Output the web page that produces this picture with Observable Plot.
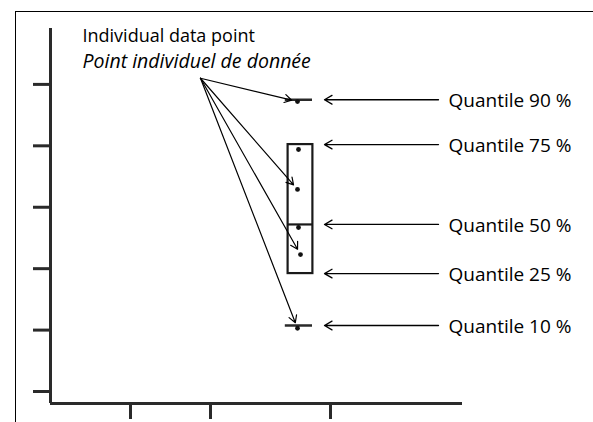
<!DOCTYPE html>
<html>
<head>
<meta charset="utf-8">
<script src="https://cdn.jsdelivr.net/npm/d3@7"></script>
<script src="https://cdn.jsdelivr.net/npm/@observablehq/plot@0.6"></script>
<style>
  html, body { margin: 0; padding: 0; background: #fff; }
  #wrap { position: relative; width: 593px; height: 422px; overflow: hidden; }
  #frame { position: absolute; left: 15px; top: 11px; right: -5px; bottom: -5px;
           border-left: 1.5px solid #000; border-top: 1.5px solid #000; pointer-events: none; }
  #chart { position: absolute; left: 0; top: 0; }
</style>
</head>
<body>
<div id="wrap"><div id="chart"></div><div id="frame"></div></div>
<script>
// Axis ticks (unlabelled in the reference)
const yTicks = [1, 2, 3, 4, 5, 6];
const xTicks = [2, 4, 7];

// Box position and width
const boxX = 6.25;
const boxHalf = 0.31;
const capHalf = 0.33;

// Quantile labels and values
const quantileLabels = ["Quantile 90 %", "Quantile 75 %", "Quantile 50 %", "Quantile 25 %", "Quantile 10 %"];
const quantileValues = [5.75, 5.02, 3.72, 2.92, 2.075];

// Individual data points
const pointX = [6.175, 6.2, 6.175, 6.2, 6.25, 6.175];
const pointY = [5.72, 4.94, 4.29, 3.67, 3.23, 2.03];
const annotatedPoints = [0, 2, 4, 5];

// Annotation
const annotationLines = ["Individual data point", "Point individuel de donnée"];
const annotationX = 0.8;
const annotationY = [6.78, 6.37];
const arrowOrigin = [3.75, 6.1];
const labelX = 9.95;
const labelArrowFrom = 9.7;
const labelArrowTo = 6.85;

const points = pointX.map((x, i) => ({x, y: pointY[i]}));
const quantiles = quantileLabels.map((label, i) => ({label, value: quantileValues[i]}));
const q = Object.fromEntries([90, 75, 50, 25, 10].map((k, i) => [k, quantileValues[i]]));
const arrows = annotatedPoints.map(i => ({x1: arrowOrigin[0], y1: arrowOrigin[1], x2: pointX[i], y2: pointY[i]}));

const axisColor = "#2a2a2a";

const chart = Plot.plot({
  width: 593,
  height: 422,
  marginLeft: 50,
  marginRight: 131,
  marginTop: 28,
  marginBottom: 19,
  x: {domain: [0, 10.3]},
  y: {domain: [0.805, 6.91]},
  style: {fontFamily: "'Open Sans', sans-serif", fontSize: "19px", background: "transparent", overflow: "visible"},
  marks: [
    Plot.axisY({ticks: yTicks, tickSize: 17, tickFormat: () => "", stroke: axisColor, strokeWidth: 3}),
    Plot.axisX({ticks: xTicks, tickSize: 16, tickFormat: () => "", stroke: axisColor, strokeWidth: 3}),
    Plot.ruleX([0], {stroke: axisColor, strokeWidth: 3}),
    Plot.ruleY([0.805], {stroke: axisColor, strokeWidth: 3}),
    // whisker caps
    Plot.ruleY([q[90], q[10]], {x1: boxX - capHalf - 0.05, x2: boxX + capHalf - 0.03, stroke: axisColor, strokeWidth: 2.5}),
    // box
    Plot.rect([{y1: q[25], y2: q[75]}], {x1: boxX - boxHalf, x2: boxX + boxHalf, y1: "y1", y2: "y2", fill: "none", stroke: "#1a1a1a", strokeWidth: 2.2}),
    Plot.ruleY([q[50]], {x1: boxX - boxHalf, x2: boxX + boxHalf, stroke: "#1a1a1a", strokeWidth: 2.2}),
    // points
    Plot.dot(points, {x: "x", y: "y", r: 2.4, fill: "#111", stroke: "none"}),
    // annotation arrows
    Plot.arrow(arrows, {x1: "x1", y1: "y1", x2: "x2", y2: "y2", stroke: "#000", strokeWidth: 1.2, headLength: 10, insetEnd: 6}),
    Plot.arrow(quantiles, {x1: labelArrowFrom, x2: labelArrowTo, y1: "value", y2: "value", stroke: "#000", strokeWidth: 1.3, headLength: 10}),
    // labels
    Plot.text(quantiles, {x: labelX, y: "value", text: "label", textAnchor: "start", dy: 1, fill: "#000"}),
    Plot.text([annotationLines[0]], {x: annotationX, y: annotationY[0], text: d => d, textAnchor: "start", fill: "#000", fontSize: 18}),
    Plot.text([annotationLines[1]], {x: annotationX, y: annotationY[1], text: d => d, textAnchor: "start", fill: "#000", fontSize: 19.5, fontStyle: "italic"})
  ]
});
document.getElementById("chart").appendChild(chart);
</script>
</body>
</html>
